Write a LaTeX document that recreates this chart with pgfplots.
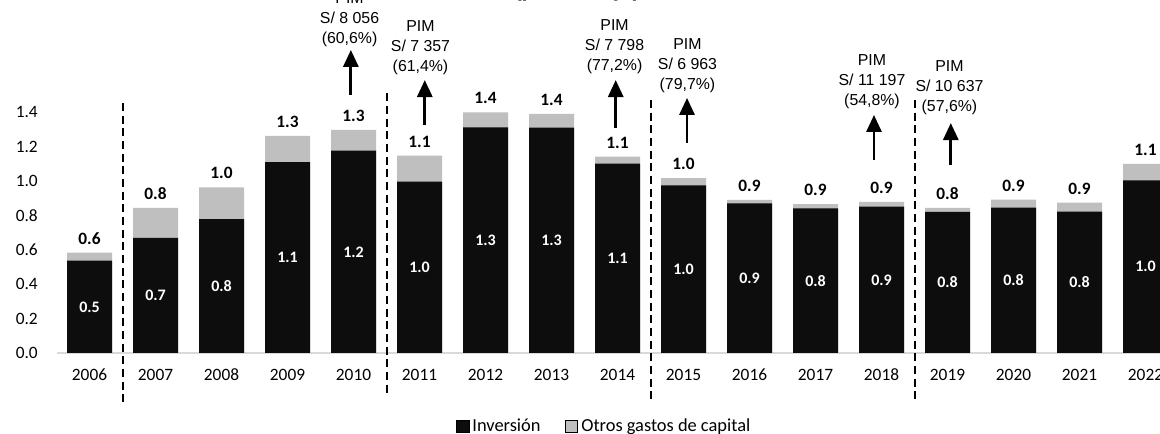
\documentclass[border=0pt]{standalone}
\usepackage{fontspec}
\setmainfont{Carlito}
\newfontfamily\arialf{Liberation Sans}
\usepackage{pgfplots}
\pgfplotsset{compat=1.18}
\usepackage{pgfplotstable}
\usetikzlibrary{arrows.meta}
\definecolor{inv}{HTML}{0D0D0D}
\definecolor{otr}{HTML}{BFBFBF}
\definecolor{basec}{HTML}{D9D9D9}
\pgfplotsset{/pgf/number format/assume math mode=true}

\pgfplotstableread{
x inv tot
0 0.537 0.583
1 0.669 0.843
2 0.779 0.963
3 1.109 1.263
4 1.176 1.297
5 0.996 1.148
6 1.312 1.399
7 1.310 1.390
8 1.101 1.142
9 0.975 1.016
10 0.870 0.890
11 0.841 0.866
12 0.851 0.878
13 0.820 0.843
14 0.845 0.891
15 0.822 0.874
16 1.004 1.099
}\data

\begin{document}
\begin{tikzpicture}
\begin{axis}[
  scale only axis, x=49.5pt, y=129pt,
  xmin=-0.492, xmax=16.6, ymin=0, ymax=1.4,
  clip=false,
  axis x line*=bottom, axis y line*=left,
  x axis line style={draw=basec, line width=1.5pt, -},
  y axis line style={draw=none, -},
  major tick length=0pt, tick style={draw=none},
  xtick={0,...,16},
  xticklabels={2006,2007,2008,2009,2010,2011,2012,2013,2014,2015,2016,2017,2018,2019,2020,2021,2022},
  ytick={0,0.2,0.4,0.6,0.8,1.0,1.2,1.4},
  yticklabel style={anchor=east, inner sep=0pt, xshift=-14.25pt, font=\fontsize{13}{15}\selectfont,
     /pgf/number format/fixed, /pgf/number format/fixed zerofill, /pgf/number format/precision=1},
  xticklabel style={anchor=base, inner sep=0pt, yshift=-21pt, font=\fontsize{13}{15}\selectfont},
  legend style={at={(axis description cs:0.4857,-0.3029)}, anchor=center, draw=none, fill=none,
     legend columns=2, font=\fontsize{13.8}{16}\selectfont,
     nodes={inner xsep=2.5pt, inner ysep=0pt},
     /tikz/every even column/.append style={column sep=16pt}},
  legend image code/.code={\fill[#1] (0pt,-4.6pt) rectangle (9.2pt,4.6pt);},
]
\addlegendimage{fill=inv}
\addlegendentry{Inversión}
\addlegendimage{fill=otr}
\addlegendentry{Otros gastos de capital}

\addplot[ybar, bar width=33.75pt, bar shift=0pt, fill=otr, draw=none, forget plot,
  nodes near coords={\pgfmathprintnumber[fixed,fixed zerofill,precision=1]{\pgfplotspointmeta}},
  every node near coord/.append style={anchor=south, inner sep=0pt, yshift=6pt, text=black,
     font=\bfseries\fontsize{13}{15}\selectfont}]
  table[x=x, y=tot]{\data};
\addplot[ybar, bar width=33.75pt, bar shift=0pt, fill=inv, draw=none, forget plot]
  table[x=x, y=inv]{\data};
\addplot[draw=none, mark=none, forget plot, point meta=\thisrow{inv},
  nodes near coords={\pgfmathprintnumber[fixed,fixed zerofill,precision=1]{\pgfplotspointmeta}},
  every node near coord/.append style={anchor=center, inner sep=0pt, text=white,
     font=\bfseries\fontsize{12}{13}\selectfont}]
  table[x=x, y expr=\thisrow{inv}/2]{\data};

% dashed separators
\draw[line width=1.5pt, dash pattern=on 6pt off 3.5pt] (axis cs:0.5,1.453) -- (axis cs:0.5,-0.302);
\draw[line width=1.5pt, dash pattern=on 6pt off 3.5pt] (axis cs:4.5,1.51) -- (axis cs:4.5,-0.245);
\draw[line width=1.5pt, dash pattern=on 6pt off 3.5pt] (axis cs:8.5,1.471) -- (axis cs:8.5,-0.285);
\draw[line width=1.5pt, dash pattern=on 6pt off 3.5pt] (axis cs:12.5,1.471) -- (axis cs:12.5,-0.28);

% PIM annotations
\tikzset{pim/.style={font=\arialf\fontsize{11.9}{15}\selectfont, align=center, inner sep=0pt},
         parr/.style={line width=2.2pt, -{Triangle[width=11.25pt,length=12.75pt]}}}
\node[pim] at (axis cs:3.94,1.94) {PIM\\S/ 8 056\\(60,6\%)};
\draw[parr] (axis cs:3.96,1.5) -- (axis cs:3.96,1.762);
\node[pim] at (axis cs:5.015,1.773) {PIM\\S/ 7 357\\(61,4\%)};
\draw[parr] (axis cs:5.08,1.326) -- (axis cs:5.08,1.587);
\node[pim] at (axis cs:7.955,1.779) {PIM\\S/ 7 798\\(77,2\%)};
\draw[parr] (axis cs:7.973,1.308) -- (axis cs:7.973,1.587);
\node[pim] at (axis cs:9.06,1.669) {PIM\\S/ 6 963\\(79,7\%)};
\draw[parr] (axis cs:9.053,1.221) -- (axis cs:9.053,1.483);
\node[pim] at (axis cs:11.856,1.576) {PIM\\S/ 11 197\\(54,8\%)};
\draw[parr] (axis cs:11.886,1.122) -- (axis cs:11.886,1.384);
\node[pim] at (axis cs:13.03,1.544) {PIM\\S/ 10 637\\(57,6\%)};
\draw[parr] (axis cs:13.05,1.093) -- (axis cs:13.05,1.337);

% title (cut at the top in the reference)
\node[font=\arialf\bfseries\fontsize{16.5}{18}\selectfont, anchor=base, inner sep=0pt]
  at (axis cs:7.39,2.072) {(porcentaje)};

\coordinate (bl) at (axis cs:-1.3561,-0.47093);
\coordinate (tr) at (axis cs:16.2197,2.05233);
\end{axis}
\pgfresetboundingbox
\useasboundingbox (bl) rectangle (tr);
\end{tikzpicture}
\end{document}
